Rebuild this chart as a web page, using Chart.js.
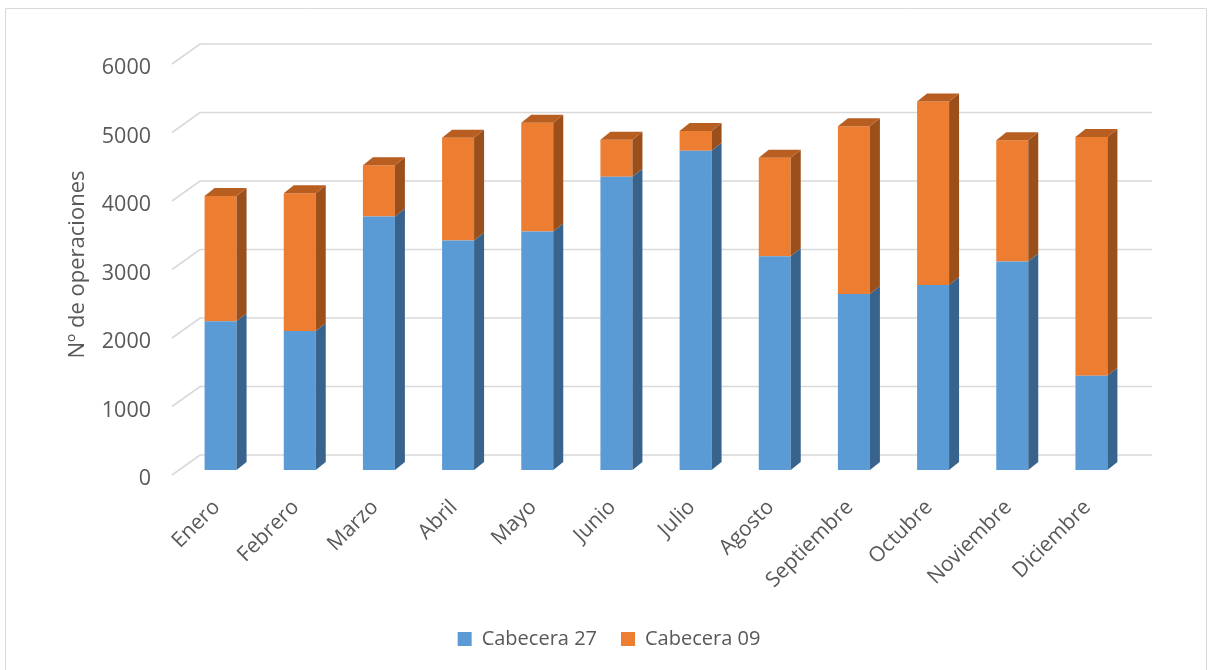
<!DOCTYPE html>
<html><head><meta charset="utf-8">
<script src="https://cdn.jsdelivr.net/npm/chart.js@4.4.1/dist/chart.umd.min.js"></script>
<style>html,body{margin:0;padding:0;background:#fff;overflow:hidden}</style>
</head><body>
<canvas id="c" width="1208" height="670"></canvas>
<script>
const months = ['Enero','Febrero','Marzo','Abril','Mayo','Junio','Julio','Agosto','Septiembre','Octubre','Noviembre','Diciembre'];
const cabecera27 = [2170, 2030, 3700, 3350, 3480, 4280, 4660, 3120, 2570, 2700, 3045, 1375];
const cabecera09 = [1830, 2010, 750, 1500, 1590, 540, 290, 1440, 2450, 2680, 1770, 3485];
const seriesNames = ['Cabecera 27', 'Cabecera 09'];
const yAxisTitle = 'Nº de operaciones';
const yMin = 0, yMax = 6000, yStep = 1000;

const frontColors = ['#5b9bd5', '#ed7d31'];
const sideColors = ['#38638c', '#9b501c'];
const topColors = ['#4a80b2', '#b85e21'];
const DX = 10, DY = -8;
const TEXT = '#595959';
const FONT = '"Open Sans", sans-serif';

const threeD = {
  id: 'threeD',
  beforeDraw(chart) {
    const ctx = chart.ctx;
    ctx.save();
    ctx.fillStyle = '#fff';
    ctx.fillRect(0, 0, chart.width, chart.height);
    ctx.strokeStyle = '#d9d9d9';
    ctx.lineWidth = 1;
    ctx.beginPath();
    ctx.moveTo(5.5, 680); ctx.lineTo(5.5, 8.5); ctx.lineTo(1206.5, 8.5); ctx.lineTo(1206.5, 680);
    ctx.stroke();
    ctx.restore();
  },
  beforeDatasetsDraw(chart) {
    const {ctx, chartArea} = chart;
    const y = chart.scales.y;
    ctx.save();
    ctx.strokeStyle = '#d9d9d9';
    ctx.lineWidth = 1.6;
    y.ticks.forEach(t => {
      const yb = y.getPixelForValue(t.value);
      ctx.beginPath();
      ctx.moveTo(chartArea.left - 9, yb + 5);
      ctx.lineTo(chartArea.left + 19, yb - 15);
      ctx.lineTo(chartArea.right + 21, yb - 15);
      ctx.stroke();
    });
    ctx.restore();
  },
  afterDatasetsDraw(chart) {
    const ctx = chart.ctx;
    const metas = chart.getSortedVisibleDatasetMetas();
    const poly = (pts, color) => {
      ctx.fillStyle = color;
      ctx.beginPath();
      ctx.moveTo(pts[0], pts[1]);
      for (let k = 2; k < pts.length; k += 2) ctx.lineTo(pts[k], pts[k + 1]);
      ctx.closePath();
      ctx.fill();
    };
    ctx.save();
    metas.forEach((meta, di) => {
      meta.data.forEach(bar => {
        const p = bar.getProps(['x', 'y', 'base', 'width'], true);
        const r = p.x + p.width / 2;
        poly([r, p.y, r + DX, p.y + DY, r + DX, p.base + DY, r, p.base], sideColors[di]);
      });
    });
    const lastIdx = metas.length - 1;
    metas[lastIdx].data.forEach(bar => {
      const p = bar.getProps(['x', 'y', 'base', 'width'], true);
      const l = p.x - p.width / 2, r = p.x + p.width / 2;
      poly([l, p.y, l + DX, p.y + DY, r + DX, p.y + DY, r, p.y], topColors[lastIdx]);
    });
    ctx.restore();
  }
};

new Chart(document.getElementById('c'), {
  type: 'bar',
  data: {
    labels: months,
    datasets: [
      { label: seriesNames[0], data: cabecera27, backgroundColor: frontColors[0], borderWidth: 0 },
      { label: seriesNames[1], data: cabecera09, backgroundColor: frontColors[1], borderWidth: 0 }
    ]
  },
  options: {
    responsive: false,
    animation: false,
    devicePixelRatio: 1,
    layout: { padding: { left: 20, right: 10, top: 59, bottom: 11 } },
    datasets: { bar: { barPercentage: 0.404, categoryPercentage: 1 } },
    plugins: {
      legend: {
        position: 'bottom',
        labels: { boxWidth: 14, boxHeight: 14, padding: 24, color: TEXT, font: { family: FONT, size: 20 } }
      },
      tooltip: { enabled: false }
    },
    scales: {
      x: {
        stacked: true,
        grid: { display: false, drawTicks: false },
        border: { display: false },
        ticks: { color: TEXT, font: { family: FONT, size: 21 }, minRotation: 45, maxRotation: 45, padding: 25, labelOffset: -4, autoSkip: false },
        afterFit: s => { s.height = 135; }
      },
      y: {
        stacked: true,
        min: yMin, max: yMax,
        grid: { display: false, drawTicks: false },
        border: { display: false },
        ticks: { stepSize: yStep, color: TEXT, font: { family: FONT, size: 21.5 }, padding: 30, labelOffset: 9, callback: v => String(v) },
        title: { display: true, text: yAxisTitle, color: TEXT, font: { family: FONT, size: 22 }, padding: { top: 45, bottom: 0 } },
        afterFit: s => { s.width = 161; }
      },
      yR: {
        position: 'right',
        display: true,
        grid: { display: false, drawTicks: false },
        border: { display: false },
        ticks: { display: false },
        afterFit: s => { s.width = 67; }
      }
    }
  },
  plugins: [threeD]
});
</script>
</body></html>
